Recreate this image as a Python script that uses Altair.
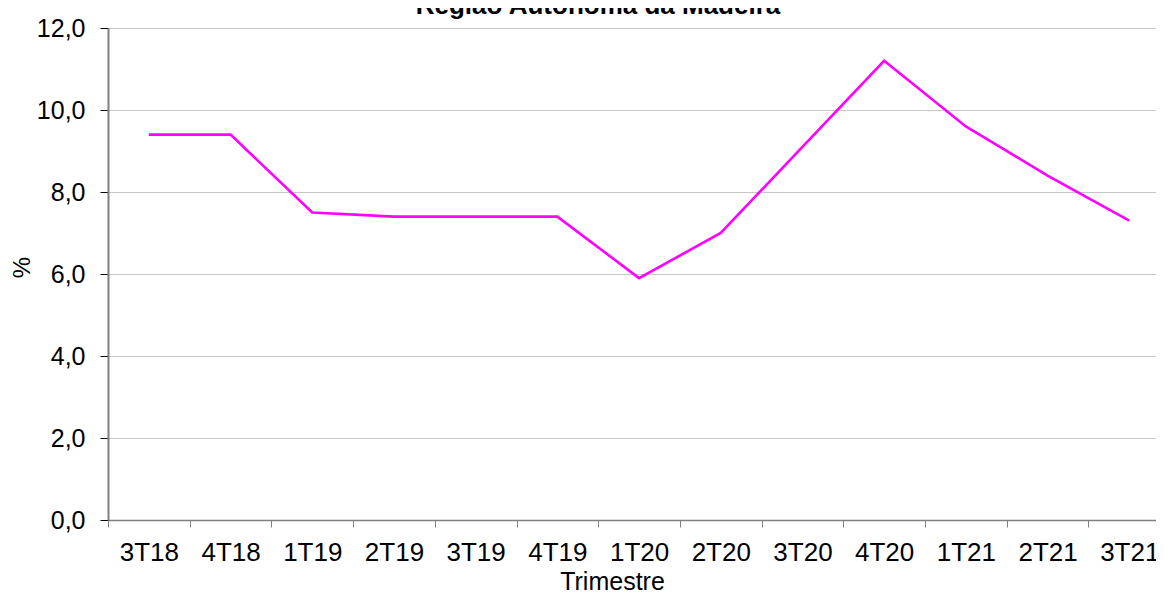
import altair as alt
import pandas as pd

categories = ["3T18", "4T18", "1T19", "2T19", "3T19", "4T19", "1T20",
              "2T20", "3T20", "4T20", "1T21", "2T21", "3T21"]
values = [9.4, 9.4, 7.5, 7.4, 7.4, 7.4, 5.9, 7.0, 9.1, 11.2, 9.6, 8.4, 7.3]
title_text = "Região Autónoma da Madeira"
y_ticks = [0, 2, 4, 6, 8, 10, 12]

FONT = "Liberation Sans"
STEP = 81.7          # pixel width of one quarter band, as in the reference
PLOT_W = 1048        # visible part of the plot area (reference is cut at right)
PLOT_H = 492

# position of each category: centre of its band (index + 0.5)
df = pd.DataFrame({
    "trimestre": categories,
    "pos": [i + 0.5 for i in range(len(categories))],
    "valor": values,
})
band_edges = list(range(len(categories)))
cat_array = "[" + ",".join("'" + c + "'" for c in categories) + "]"

line = alt.Chart(df).mark_line(color="#FF00FF", strokeWidth=2.6).encode(
    x=alt.X(
        "pos:Q",
        scale=alt.Scale(domain=[0, PLOT_W / STEP], nice=False, zero=False),
        axis=alt.Axis(
            title="Trimestre",
            values=band_edges,
            labelExpr=cat_array + "[datum.value]",
            labelOffset=STEP / 2,
            labelFlush=False,
            labelOverlap=False,
            labelAngle=0,
            labelFont=FONT,
            labelFontSize=26,
            labelColor="#000000",
            labelPadding=12,
            tickSize=7,
            tickColor="#808080",
            tickWidth=1,
            domainColor="#808080",
            domainWidth=1.5,
            grid=False,
            titleFont=FONT,
            titleFontSize=25,
            titleFontWeight="normal",
            titleColor="#000000",
            titleX=504,
            titleY=69,
            titleAlign="center",
            titleBaseline="alphabetic",
        ),
    ),
    y=alt.Y(
        "valor:Q",
        scale=alt.Scale(domain=[0, 12], nice=False),
        axis=alt.Axis(
            title="%",
            values=y_ticks,
            labelExpr="replace(format(datum.value, '.1f'), '.', ',')",
            labelFont=FONT,
            labelFontSize=25,
            labelColor="#000000",
            labelPadding=15,
            tickSize=8,
            tickColor="#000000",
            tickWidth=1,
            domainColor="#808080",
            domainWidth=2,
            grid=True,
            gridColor="#8c8c8c",
            gridDash=[1, 1],
            gridWidth=1,
            titleFont=FONT,
            titleFontSize=24,
            titleFontWeight="normal",
            titleColor="#000000",
            titleX=-86,
            titleY=239,
            titleAlign="center",
            titleBaseline="middle",
            titleAngle=-90,
        ),
    ),
)

title = alt.Chart(pd.DataFrame({"t": [title_text]})).mark_text(
    font=FONT, fontSize=26, fontWeight="bold", color="#000000",
    align="center", baseline="alphabetic",
).encode(
    x=alt.value(490),
    y=alt.value(-14),
    text="t:N",
)

chart = alt.layer(line, title).properties(
    width=PLOT_W,
    height=PLOT_H,
    autosize=alt.AutoSizeParams(type="none"),
    padding={"left": 100, "top": 20, "right": 0, "bottom": 71},
    background="#ffffff",
).configure_view(strokeWidth=0)

chart.save("out.html", embed_options={"renderer": "svg", "actions": False})
